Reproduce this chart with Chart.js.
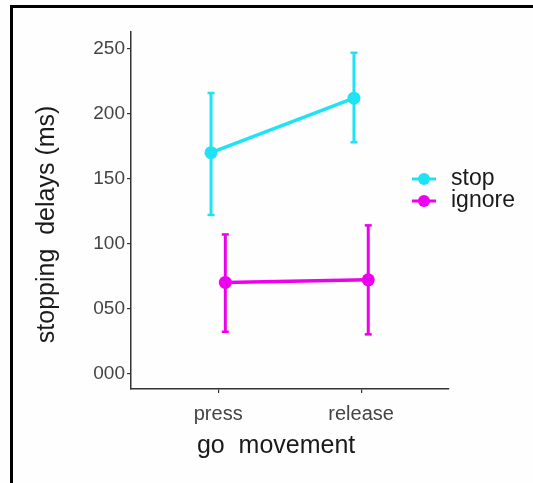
<!DOCTYPE html>
<html>
<head>
<meta charset="utf-8">
<script src="https://cdn.jsdelivr.net/npm/chart.js@4.4.1/dist/chart.umd.min.js"></script>
<style>
  html, body { margin: 0; padding: 0; background: #fff; }
  #wrap { position: relative; width: 533px; height: 483px; background: #fefefe; }
  #frame { position: absolute; left: 10px; top: 5px; right: 0; bottom: 0;
           border-top: 3px solid #000; border-left: 3px solid #000; pointer-events: none; }
  canvas { position: absolute; left: 0; top: 0; }
</style>
</head>
<body>
<div id="wrap">
  <canvas id="chart" width="533" height="483"></canvas>
  <div id="frame"></div>
</div>
<script>
// data
const categories = ['press', 'release'];
const seriesNames = ['stop', 'ignore'];
const seriesColors = ['#1fe3f4', '#ee00ee'];
const stopMeans = [170, 212];
const stopLow = [122, 178];
const stopHigh = [216, 247];
const ignoreMeans = [70, 72];
const ignoreLow = [32, 30];
const ignoreHigh = [107, 114];
const yTicks = [0, 50, 100, 150, 200, 250];

const FONT = "'Liberation Sans', Arial, sans-serif";
const dodge = [-0.05, 0.05];
const means = [stopMeans, ignoreMeans];
const lows = [stopLow, ignoreLow];
const highs = [stopHigh, ignoreHigh];

const datasets = [];
seriesNames.forEach((name, s) => {
  // mean line + points
  datasets.push({
    label: name,
    data: means[s].map((v, i) => ({ x: i + 1 + dodge[s], y: v })),
    showLine: true,
    borderColor: seriesColors[s],
    backgroundColor: seriesColors[s],
    borderWidth: 3.5,
    pointRadius: 6.5,
    pointBorderWidth: 0,
    order: 0
  });
  // error bars, one small dataset per category
  categories.forEach((c, i) => {
    datasets.push({
      label: name + ' err',
      data: [{ x: i + 1 + dodge[s], y: lows[s][i] }, { x: i + 1 + dodge[s], y: highs[s][i] }],
      showLine: true,
      borderColor: seriesColors[s],
      backgroundColor: seriesColors[s],
      borderWidth: 3,
      pointStyle: 'line',
      pointRadius: 3.5,
      pointBorderWidth: 2.5,
      order: 1
    });
  });
});

const sideLegend = {
  id: 'sideLegend',
  afterDraw(chart) {
    const ctx = chart.ctx;
    ctx.save();
    seriesNames.forEach((name, i) => {
      const y = 179 + i * 22;
      ctx.strokeStyle = seriesColors[i];
      ctx.lineWidth = 3;
      ctx.beginPath();
      ctx.moveTo(412, y);
      ctx.lineTo(436, y);
      ctx.stroke();
      ctx.fillStyle = seriesColors[i];
      ctx.beginPath();
      ctx.arc(424, y, 6, 0, Math.PI * 2);
      ctx.fill();
      ctx.fillStyle = '#1a1a1a';
      ctx.font = '23px ' + FONT;
      ctx.textBaseline = 'middle';
      ctx.fillText(name, 451, y);
    });
    ctx.restore();
  }
};

const axisGrid = { display: true, drawOnChartArea: false, drawTicks: true, tickLength: 4, color: '#333', lineWidth: 1.2 };
const axisBorder = { display: true, color: '#333', width: 1.5 };

new Chart(document.getElementById('chart'), {
  type: 'scatter',
  data: { datasets },
  options: {
    responsive: false,
    devicePixelRatio: 1,
    animation: false,
    layout: { padding: { top: 32, right: 84, left: 0, bottom: 0 } },
    plugins: { legend: { display: false }, tooltip: { enabled: false } },
    scales: {
      x: {
        type: 'linear',
        min: 0.39,
        max: 2.615,
        afterBuildTicks: s => { s.ticks = categories.map((c, i) => ({ value: i + 1 })); },
        afterFit: s => { s.height = 94; },
        grid: axisGrid,
        border: axisBorder,
        ticks: {
          font: { family: FONT, size: 20 },
          color: '#444',
          padding: 9,
          callback: v => categories[v - 1]
        },
        title: {
          display: true,
          text: 'go  movement    ',
          font: { family: FONT, size: 25 },
          color: '#1a1a1a',
          padding: { top: 0, bottom: 22 }
        }
      },
      y: {
        min: -12.1,
        max: 263,
        afterBuildTicks: s => { s.ticks = yTicks.map(v => ({ value: v })); },
        afterFit: s => { s.width = 131; },
        grid: axisGrid,
        border: axisBorder,
        ticks: {
          font: { family: FONT, size: 19 },
          color: '#444',
          padding: 2,
          callback: v => String(v).padStart(3, '0')
        },
        title: {
          display: true,
          text: 'stopping  delays (ms)    ',
          font: { family: FONT, size: 25 },
          color: '#1a1a1a',
          padding: { top: 32, bottom: 0 }
        }
      }
    }
  },
  plugins: [sideLegend]
});
</script>
</body>
</html>
